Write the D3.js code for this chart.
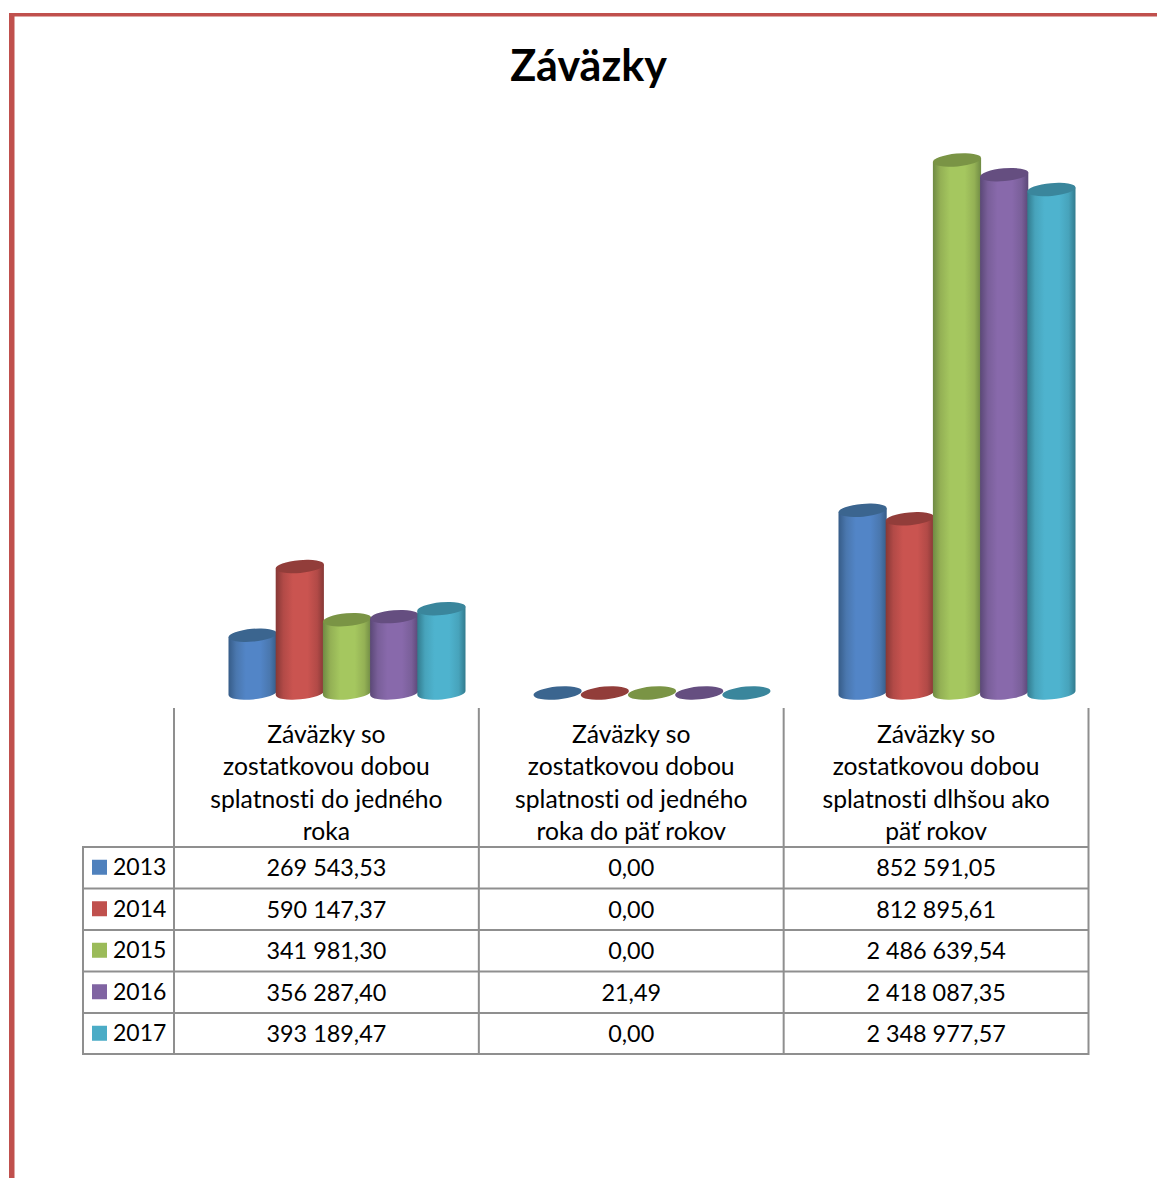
<!DOCTYPE html>
<html><head><meta charset="utf-8">
<script src="https://cdn.jsdelivr.net/npm/d3@7"></script>
<style>html,body{margin:0;padding:0;background:#fff}svg{display:block}text{font-family:Lato,Carlito,sans-serif;fill:#000;font-variant-ligatures:none}</style>
</head><body><div id="c"></div>
<script>
const years = ["2013","2014","2015","2016","2017"];
const categories = [
  ["Záväzky so","zostatkovou dobou","splatnosti do jedného","roka"],
  ["Záväzky so","zostatkovou dobou","splatnosti od jedného","roka do päť rokov"],
  ["Záväzky so","zostatkovou dobou","splatnosti dlhšou ako","päť rokov"]
];
const v2013 = [269543.53, 0, 852591.05];
const v2014 = [590147.37, 0, 812895.61];
const v2015 = [341981.30, 0, 2486639.54];
const v2016 = [356287.40, 21.49, 2418087.35];
const v2017 = [393189.47, 0, 2348977.57];
const seriesValues = [v2013, v2014, v2015, v2016, v2017];
const colors = ["#4f81bd","#c0504d","#9bbb59","#8064a2","#4bacc6"];
const lights = ["#5285c7","#ca5450","#a5c75f","#8869ab","#4eb3ce"];
const mids   = ["#4a77ae","#b24a47","#94b155","#795f99","#47a3bb"];
const darks  = ["#365c88","#863836","#6f8a44","#5b4877","#327b8e"];
const tops   = ["#3b658f","#923d3a","#7a9445","#654e80","#3a869c"];

const W = 1157, H = 1178;
const svg = d3.select("#c").append("svg").attr("width", W).attr("height", H);
const fmt = d3.formatLocale({decimal:",",thousands:" ",grouping:[3],currency:["","€"]}).format(",.2f");

// frame
svg.append("rect").attr("x",9).attr("y",13).attr("width",W-9).attr("height",3.5).attr("fill","#c0504d");
svg.append("rect").attr("x",9).attr("y",13).attr("width",5.5).attr("height",H-13).attr("fill","#c0504d");

svg.append("text").attr("x",588.5).attr("y",81).attr("text-anchor","middle")
  .attr("font-size",43).style("font-weight",700).text("Záväzky");

// scales
const y = d3.scaleLinear().domain([0,2486639.54]).range([693,160]);
const xCat = d3.scaleBand().domain(d3.range(3)).range([194.5,1109.5]);
const xSer = d3.scaleBand().domain(d3.range(5)).range([34,270]);

const defs = svg.append("defs");
years.forEach((yr,i)=>{
  const g = defs.append("linearGradient").attr("id","g"+i).attr("x1",0).attr("x2",1).attr("y1",0).attr("y2",0);
  [[0,darks[i]],[0.16,mids[i]],[0.36,lights[i]],[0.66,lights[i]],[0.86,mids[i]],[1,darks[i]]].forEach(s=>
    g.append("stop").attr("offset",s[0]).attr("stop-color",s[1]));
});

const rot = -5, ry = 6.4;
const rad = rot*Math.PI/180;
categories.forEach((c,ci)=>{
  years.forEach((yr,si)=>{
    const v = seriesValues[si][ci];
    const x0 = xCat(ci)+xSer(si), w = xSer.bandwidth()+1, rx = w/2, cx = x0+rx;
    const yT = y(v), yB = y(0);
    const dx = rx, dy = rx*Math.tan(rad);
    if (yB-yT > 0.5) {
      svg.append("path").attr("fill",`url(#g${si})`)
        .attr("d",`M${cx-dx},${yT-dy} L${cx-dx},${yB-dy} A${rx/Math.cos(rad)},${ry} ${rot} 0 0 ${cx+dx},${yB+dy} L${cx+dx},${yT+dy} Z`);
    }
    svg.append("ellipse").attr("cx",cx).attr("cy",yT).attr("rx",rx/Math.cos(rad)).attr("ry",ry)
      .attr("transform",`rotate(${rot} ${cx} ${yT})`).attr("fill",tops[si]);
  });
});

// data table
const colX = d3.scaleBand().domain(d3.range(3)).range([174,1088.5]);
const rowY = d3.scaleBand().domain(d3.range(5)).range([847,1054.5]);
const gridC = "#8f8f8f";
const line=(x1,y1,x2,y2)=>svg.append("line").attr("x1",x1).attr("y1",y1).attr("x2",x2).attr("y2",y2)
  .attr("stroke",gridC).attr("stroke-width",2);
d3.range(4).forEach(i=>{ const x=i<3?colX(i):colX(2)+colX.bandwidth(); line(x,708,x,1055); });
line(83,846,83,1055);
d3.range(6).forEach(i=>{ const yy=i<5?rowY(i):1054; line(82,yy,1089,yy); });

const headerLineY = [743,775,808,840];
categories.forEach((c,ci)=>{
  const cx = colX(ci)+colX.bandwidth()/2;
  c.forEach((t,li)=>{
    svg.append("text").attr("x",cx).attr("y",headerLineY[li]-0.5).attr("text-anchor","middle").attr("font-size",24.7).text(t);
  });
  years.forEach((yr,si)=>{
    svg.append("text").attr("x",cx).attr("y",rowY(si)+rowY.bandwidth()/2+8.5)
      .attr("text-anchor","middle").attr("font-size",23.4).text(fmt(seriesValues[si][ci]));
  });
});
years.forEach((yr,si)=>{
  const m = rowY(si)+rowY.bandwidth()/2-0.5;
  svg.append("rect").attr("x",92).attr("y",m-7.5).attr("width",15).attr("height",15).attr("fill",colors[si]);
  svg.append("text").attr("x",113).attr("y",m+8).attr("font-size",23).text(yr);
});
</script></body></html>
